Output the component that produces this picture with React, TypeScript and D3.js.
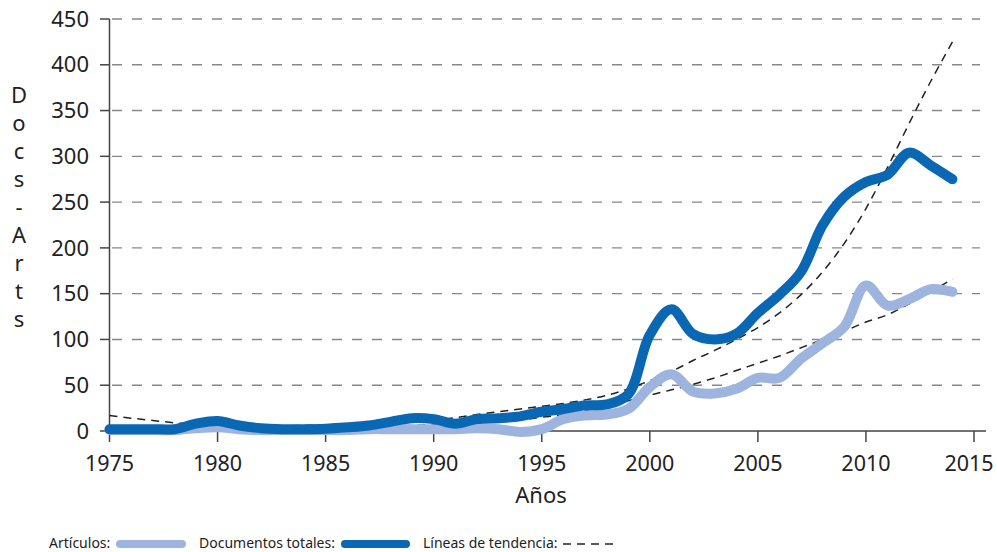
import React from "react";
import * as d3 from "d3";

const years = d3.range(1975, 2015);
const documentosTotales = [
  2, 2, 2, 2, 8, 11, 6, 3, 2, 2,
  2.5, 4, 6, 10, 14, 13, 8, 13, 14, 16,
  21, 24, 28, 29, 40, 105, 133, 106, 100, 106,
  129, 149, 174, 225, 256, 272, 280, 304, 290, 275,
];
const articulos = [
  1, 1, 1, 1, 3, 4, 2, 1, 1, 1,
  1, 1, 2, 2, 2, 2, 2, 3, 2, -1,
  2, 13, 17, 18, 24, 48, 62, 43, 41, 46,
  58, 58, 79, 96, 114, 159, 137, 144, 155, 152,
];
const tendenciaDocs = [
  17, 14, 11.5, 9, 7.5, 6.5, 6, 5.5, 5.5, 6,
  6.5, 7, 8, 9, 10, 12, 14.5, 18, 21, 24,
  27, 30, 34, 39, 46, 55, 65, 77, 88, 100,
  113, 129, 149, 174, 205, 243, 288, 336, 382, 425,
];
const tendenciaArts = [
  3, 2.5, 2, 1.5, 1.5, 1.5, 1.5, 1.5, 2, 2,
  2.5, 3, 4, 5, 6, 7, 8, 9, 10, 12,
  15, 18, 22, 27, 33, 39, 45, 51, 58, 66,
  74, 82, 91, 100, 109, 119, 127, 139, 152, 166,
];
const yTicks = [0, 50, 100, 150, 200, 250, 300, 350, 400, 450];
const xTicks = [1975, 1980, 1985, 1990, 1995, 2000, 2005, 2010, 2015];
const yLabel = "Docs-Arts".split("");

const DARK = "#0a67b3";
const LIGHT = "#9db4de";
const FONT = "'Noto Sans', 'Open Sans', sans-serif";

export default function App() {
  const x = d3.scaleLinear().domain([1975, 2015]).range([109.5, 974]);
  const y = d3.scaleLinear().domain([0, 450]).range([431, 19]);

  const mk = (vals: number[]) =>
    d3
      .line<number>()
      .x((_, i) => x(years[i]))
      .y((v) => y(v))
      .curve(d3.curveCatmullRom.alpha(0.5))(vals) || "";

  return (
    <svg
      width={997}
      height={552}
      style={{ position: "absolute", left: 0, top: 0, background: "#fff" }}
      fontFamily={FONT}
    >
      {/* gridlines */}
      {yTicks.filter((t) => t > 0).map((t) => (
        <line
          key={"g" + t}
          x1={112}
          x2={980}
          y1={y(t)}
          y2={y(t)}
          stroke="#888"
          strokeWidth={1.4}
          strokeDasharray="10 10"
        />
      ))}
      {/* axes */}
      <line x1={109.5} x2={109.5} y1={y(450)} y2={y(0)} stroke="#444" strokeWidth={1.5} />
      <line x1={109.5} x2={986} y1={y(0)} y2={y(0)} stroke="#444" strokeWidth={1.5} />
      {yTicks.map((t) => (
        <g key={"yt" + t}>
          <line x1={100} x2={109.5} y1={y(t)} y2={y(t)} stroke="#444" strokeWidth={1.5} />
          <text x={89} y={y(t)} dy="0.35em" textAnchor="end" fontSize={22} fill="#222">
            {t}
          </text>
        </g>
      ))}
      {xTicks.map((t) => (
        <g key={"xt" + t}>
          <line x1={x(t)} x2={x(t)} y1={y(0)} y2={y(0) + 11} stroke="#444" strokeWidth={1.5} />
          <text
            x={Math.min(x(t), 969)}
            y={471}
            textAnchor="middle"
            fontSize={21.5}
            fill="#222"
          >
            {t}
          </text>
        </g>
      ))}
      <text x={541} y={503} textAnchor="middle" fontSize={22} fill="#222">
        Años
      </text>
      {yLabel.map((c, i) => (
        <text key={"yl" + i} x={19} y={103 + i * 28} textAnchor="middle" fontSize={22} fill="#222">
          {c}
        </text>
      ))}

      {/* trend lines */}
      <path d={mk(tendenciaArts)} fill="none" stroke="#222" strokeWidth={1.5} strokeDasharray="8 6" />
      <path d={mk(tendenciaDocs)} fill="none" stroke="#222" strokeWidth={1.5} strokeDasharray="8 6" />

      {/* series */}
      <path d={mk(articulos)} fill="none" stroke={LIGHT} strokeWidth={10} strokeLinecap="round" strokeLinejoin="round" />
      <path d={mk(documentosTotales)} fill="none" stroke={DARK} strokeWidth={10} strokeLinecap="round" strokeLinejoin="round" />

      {/* legend */}
      <g fontSize={14} fill="#222">
        <text x={49} y={548}>Artículos:</text>
        <line x1={120} x2={182} y1={544} y2={544} stroke={LIGHT} strokeWidth={8} strokeLinecap="round" />
        <text x={199} y={548}>Documentos totales:</text>
        <line x1={345} x2={406} y1={544} y2={544} stroke={DARK} strokeWidth={8} strokeLinecap="round" />
        <text x={423} y={548}>Líneas de tendencia:</text>
        <line x1={563} x2={614} y1={544} y2={544} stroke="#222" strokeWidth={1.5} strokeDasharray="8 6" />
      </g>
    </svg>
  );
}
